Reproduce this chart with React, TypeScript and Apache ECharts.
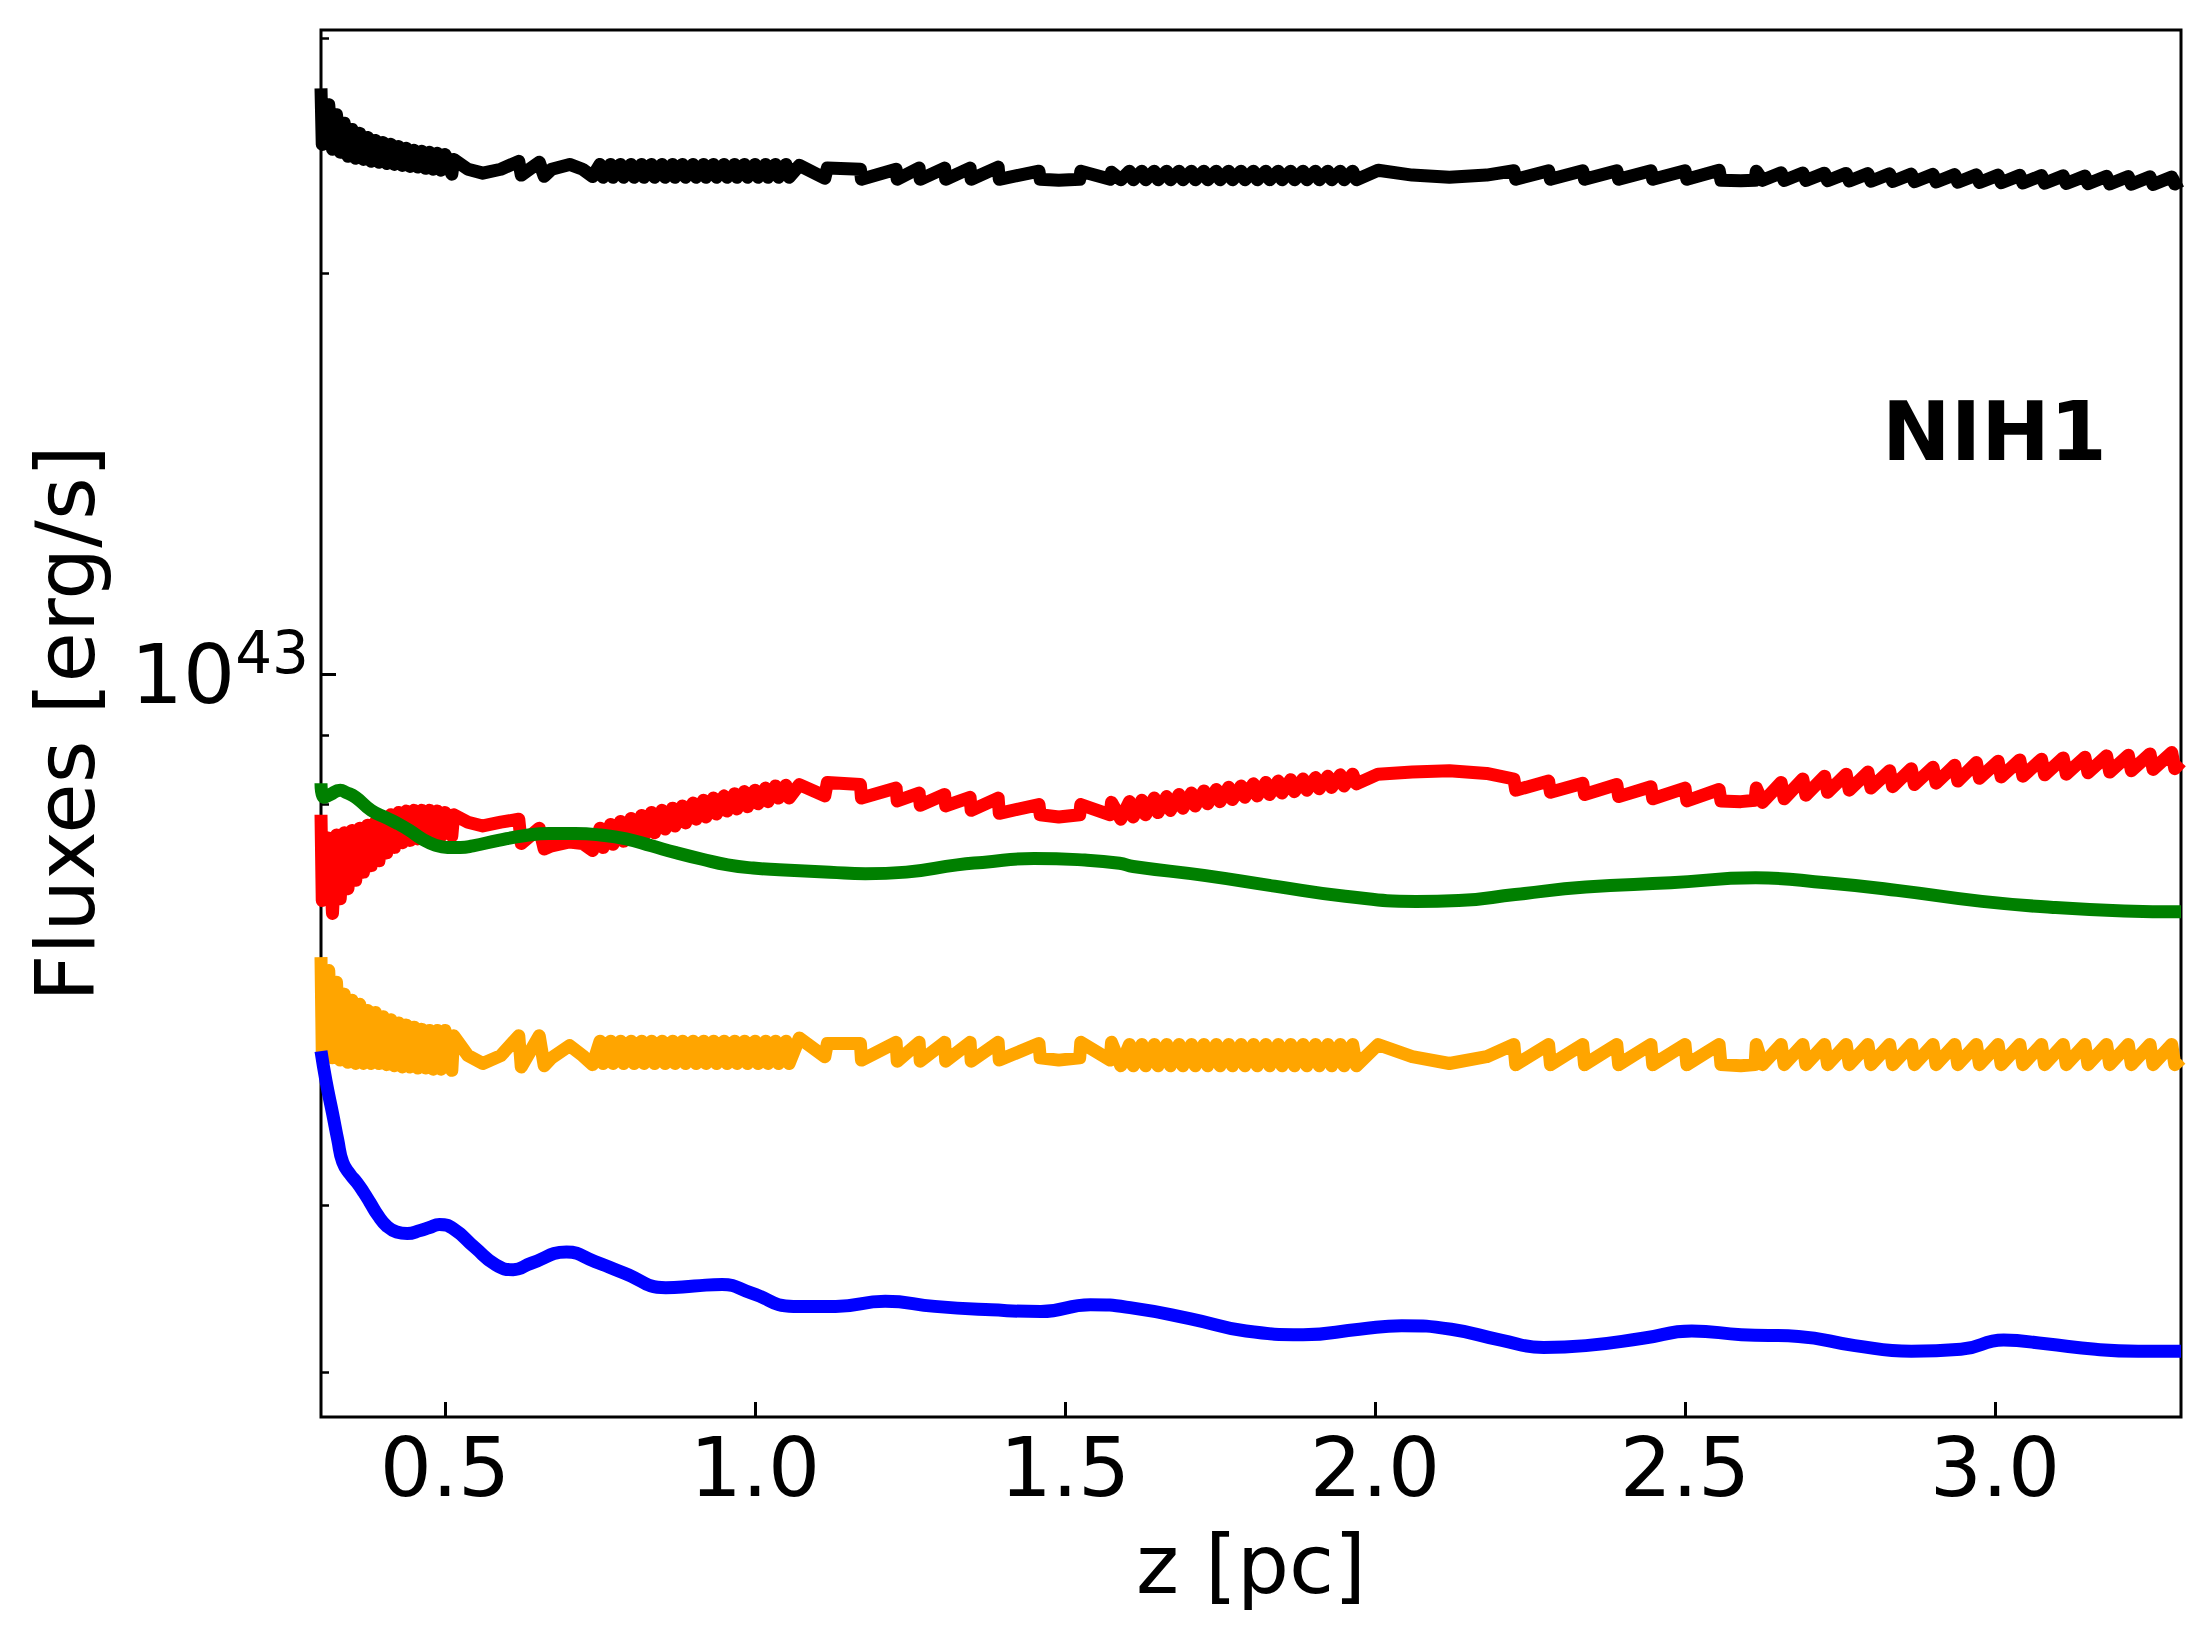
import React, { useEffect, useRef } from 'react';
import * as echarts from 'echarts';

// values in units of 1e42 erg/s
const UNIT = 1e42;
const Y_MIN = 2.776;
const Y_MAX = 30.42;
const X_MIN = 0.3;
const X_MAX = 3.3;
const X_TICKS = [0.5, 1.0, 1.5, 2.0, 2.5, 3.0];
const Y_MAJOR = [10];
const Y_MINOR = [3, 4, 5, 6, 7, 8, 9, 20, 30];

const blackFlux: [number, number][] = [
  [0.300, 27.50], [0.302, 24.97], [0.3125, 26.74], [0.3185, 24.76], [0.325, 26.28], [0.331, 24.63], [0.3375, 25.90], [0.3435, 24.46],
  [0.350, 25.62], [0.356, 24.38], [0.3625, 25.45], [0.3685, 24.33], [0.375, 25.27], [0.381, 24.25], [0.3875, 25.14], [0.3935, 24.21],
  [0.400, 25.05], [0.406, 24.16], [0.4125, 24.97], [0.4185, 24.12], [0.425, 24.88], [0.431, 24.08], [0.4375, 24.80], [0.4435, 24.04],
  [0.450, 24.72], [0.456, 24.01], [0.4625, 24.67], [0.4685, 23.96], [0.475, 24.63], [0.481, 23.92], [0.4875, 24.59], [0.4935, 23.88],
  [0.500, 24.54], [0.511, 23.72],
  [0.514, 24.33], [0.537, 23.92], [0.561, 23.76], [0.590, 23.92], [0.619, 24.25], [0.623, 23.68], [0.652, 24.21], [0.660, 23.63],
  [0.672, 23.92], [0.701, 24.12], [0.722, 23.92], [0.738, 23.62],
  [0.750, 24.12], [0.755, 23.59], [0.767, 24.12], [0.771, 23.59], [0.783, 24.12], [0.788, 23.59], [0.800, 24.12], [0.805, 23.59],
  [0.817, 24.12], [0.821, 23.59], [0.833, 24.12], [0.838, 23.59], [0.850, 24.12], [0.855, 23.59], [0.867, 24.12], [0.871, 23.59],
  [0.883, 24.12], [0.888, 23.59], [0.900, 24.12], [0.905, 23.59], [0.917, 24.12], [0.921, 23.59], [0.933, 24.12], [0.938, 23.59],
  [0.950, 24.12], [0.955, 23.59], [0.967, 24.12], [0.971, 23.59], [0.983, 24.12], [0.988, 23.59], [1.000, 24.12], [1.005, 23.59],
  [1.017, 24.12], [1.021, 23.59], [1.033, 24.12], [1.038, 23.59], [1.050, 24.12], [1.055, 23.59], [1.0715, 24.08],
  [1.1126, 23.55], [1.1167, 23.97], [1.170, 23.92], [1.1717, 23.51], [1.2276, 23.92], [1.2294, 23.51], [1.2647, 23.97], [1.2665, 23.51],
  [1.3058, 23.97], [1.3076, 23.51], [1.3469, 23.97], [1.3487, 23.51], [1.3922, 24.01], [1.394, 23.51], [1.458, 23.84], [1.460, 23.51],
  [1.490, 23.47], [1.5237, 23.51], [1.5255, 23.84], [1.573, 23.51], [1.575, 23.80],
  [1.590, 23.49], [1.604, 23.84], [1.610, 23.49], [1.624, 23.84], [1.630, 23.49], [1.644, 23.84], [1.650, 23.49], [1.664, 23.84],
  [1.670, 23.49], [1.684, 23.84], [1.690, 23.49], [1.704, 23.84], [1.710, 23.49], [1.724, 23.84], [1.730, 23.49], [1.744, 23.84],
  [1.750, 23.49], [1.764, 23.84], [1.770, 23.49], [1.784, 23.84], [1.790, 23.49], [1.804, 23.84], [1.810, 23.49], [1.824, 23.84],
  [1.830, 23.49], [1.844, 23.84], [1.850, 23.49], [1.864, 23.84], [1.870, 23.49], [1.884, 23.84], [1.890, 23.49], [1.904, 23.84],
  [1.910, 23.49], [1.924, 23.84], [1.930, 23.49], [1.944, 23.84], [1.950, 23.49], [1.964, 23.84], [1.970, 23.49],
  [2.005, 23.88], [2.060, 23.68], [2.120, 23.59], [2.180, 23.68], [2.224, 23.86], [2.227, 23.51],
  [2.280, 23.86], [2.283, 23.51], [2.335, 23.86], [2.338, 23.51], [2.390, 23.86], [2.393, 23.51], [2.445, 23.86], [2.448, 23.51],
  [2.500, 23.86], [2.503, 23.51], [2.555, 23.88], [2.558, 23.47], [2.590, 23.45], [2.613, 23.47], [2.615, 23.84],
  [2.625, 23.47], [2.655, 23.78], [2.660, 23.46], [2.690, 23.77], [2.695, 23.46], [2.725, 23.76], [2.730, 23.45], [2.760, 23.75],
  [2.765, 23.44], [2.795, 23.74], [2.800, 23.43], [2.830, 23.73], [2.835, 23.42], [2.865, 23.72], [2.870, 23.41], [2.900, 23.71],
  [2.905, 23.40], [2.935, 23.70], [2.940, 23.39], [2.970, 23.69], [2.975, 23.38], [3.005, 23.68], [3.010, 23.37], [3.040, 23.67],
  [3.045, 23.36], [3.075, 23.66], [3.080, 23.35], [3.110, 23.65], [3.115, 23.34], [3.145, 23.64], [3.150, 23.33], [3.180, 23.63],
  [3.185, 23.32], [3.215, 23.62], [3.220, 23.31], [3.250, 23.61], [3.255, 23.30], [3.285, 23.60], [3.290, 23.32], [3.300, 23.45],
];

const redFlux: [number, number][] = [
  [0.300, 7.85], [0.302, 6.77], [0.3125, 7.54], [0.3185, 6.62], [0.325, 7.58], [0.331, 6.79], [0.3375, 7.61], [0.3435, 6.91],
  [0.350, 7.64], [0.356, 7.01], [0.3625, 7.67], [0.3685, 7.11], [0.375, 7.71], [0.381, 7.19], [0.3875, 7.75], [0.3935, 7.25],
  [0.400, 7.81], [0.406, 7.35], [0.4125, 7.85], [0.4185, 7.42], [0.425, 7.88], [0.431, 7.48], [0.4375, 7.90], [0.4435, 7.51],
  [0.450, 7.91], [0.456, 7.53], [0.4625, 7.91], [0.4685, 7.54], [0.475, 7.91], [0.481, 7.55], [0.4875, 7.90], [0.4935, 7.57],
  [0.500, 7.88], [0.511, 7.57],
  [0.514, 7.85], [0.537, 7.75], [0.561, 7.70], [0.590, 7.75], [0.619, 7.79], [0.623, 7.47], [0.652, 7.67], [0.660, 7.40],
  [0.672, 7.44], [0.701, 7.49], [0.722, 7.47], [0.738, 7.38],
  [0.750, 7.67], [0.755, 7.42], [0.767, 7.72], [0.771, 7.46], [0.783, 7.76], [0.788, 7.50], [0.800, 7.80], [0.805, 7.54],
  [0.817, 7.84], [0.821, 7.57], [0.833, 7.88], [0.838, 7.61], [0.850, 7.91], [0.855, 7.66], [0.867, 7.94], [0.871, 7.70],
  [0.883, 7.97], [0.888, 7.74], [0.900, 8.01], [0.905, 7.79], [0.917, 8.05], [0.921, 7.82], [0.933, 8.08], [0.938, 7.86],
  [0.950, 8.11], [0.955, 7.90], [0.967, 8.14], [0.971, 7.93], [0.983, 8.17], [0.988, 7.96], [1.000, 8.19], [1.005, 8.00],
  [1.017, 8.22], [1.021, 8.03], [1.033, 8.25], [1.038, 8.08], [1.050, 8.26], [1.055, 8.08], [1.0715, 8.27],
  [1.1126, 8.11], [1.1167, 8.30], [1.170, 8.27], [1.1717, 8.08], [1.2276, 8.22], [1.2294, 8.04], [1.2647, 8.15], [1.2665, 7.98],
  [1.3058, 8.13], [1.3076, 7.97], [1.3469, 8.09], [1.3487, 7.91], [1.3922, 8.08], [1.394, 7.87], [1.458, 7.99], [1.460, 7.85],
  [1.490, 7.82], [1.5237, 7.85], [1.5255, 7.99], [1.573, 7.85], [1.575, 8.02],
  [1.590, 7.79], [1.604, 8.03], [1.610, 7.82], [1.624, 8.05], [1.630, 7.85], [1.644, 8.08], [1.650, 7.88], [1.664, 8.10],
  [1.670, 7.91], [1.684, 8.13], [1.690, 7.94], [1.704, 8.15], [1.710, 7.97], [1.724, 8.18], [1.730, 8.00], [1.744, 8.20],
  [1.750, 8.03], [1.764, 8.23], [1.770, 8.06], [1.784, 8.25], [1.790, 8.09], [1.804, 8.28], [1.810, 8.11], [1.824, 8.30],
  [1.830, 8.13], [1.844, 8.32], [1.850, 8.15], [1.864, 8.34], [1.870, 8.17], [1.884, 8.35], [1.890, 8.19], [1.904, 8.37],
  [1.910, 8.21], [1.924, 8.39], [1.930, 8.23], [1.944, 8.41], [1.950, 8.25], [1.964, 8.42], [1.970, 8.28],
  [2.005, 8.42], [2.060, 8.45], [2.120, 8.47], [2.180, 8.43], [2.224, 8.35], [2.227, 8.19],
  [2.280, 8.32], [2.283, 8.16], [2.335, 8.29], [2.338, 8.13], [2.390, 8.27], [2.393, 8.10], [2.445, 8.24], [2.448, 8.07],
  [2.500, 8.22], [2.503, 8.04], [2.555, 8.20], [2.558, 8.04], [2.590, 8.03], [2.613, 8.05], [2.615, 8.22],
  [2.625, 8.02], [2.655, 8.30], [2.660, 8.07], [2.690, 8.35], [2.695, 8.12], [2.725, 8.39], [2.730, 8.16], [2.760, 8.42],
  [2.765, 8.19], [2.795, 8.45], [2.800, 8.22], [2.830, 8.47], [2.835, 8.24], [2.865, 8.50], [2.870, 8.27], [2.900, 8.52],
  [2.905, 8.29], [2.935, 8.55], [2.940, 8.32], [2.970, 8.59], [2.975, 8.36], [3.005, 8.61], [3.010, 8.38], [3.040, 8.63],
  [3.045, 8.39], [3.075, 8.64], [3.080, 8.41], [3.110, 8.66], [3.115, 8.42], [3.145, 8.67], [3.150, 8.44], [3.180, 8.69],
  [3.185, 8.45], [3.215, 8.70], [3.220, 8.47], [3.250, 8.72], [3.255, 8.49], [3.285, 8.74], [3.290, 8.50], [3.300, 8.60],
];

const greenFlux: [number, number][] = [
  [0.300, 8.29], [0.305, 8.09], [0.315, 8.13], [0.331, 8.19], [0.340, 8.16], [0.356, 8.09], [0.381, 7.91], [0.405, 7.81],
  [0.422, 7.74], [0.443, 7.64], [0.463, 7.53], [0.484, 7.45], [0.504, 7.42], [0.525, 7.42], [0.545, 7.44], [0.586, 7.51],
  [0.627, 7.57], [0.668, 7.60], [0.710, 7.60], [0.751, 7.58], [0.792, 7.53], [0.833, 7.44], [0.874, 7.35], [0.915, 7.27],
  [0.956, 7.20], [0.997, 7.16], [1.039, 7.14], [1.121, 7.11], [1.178, 7.09], [1.244, 7.11], [1.326, 7.20], [1.367, 7.23],
  [1.450, 7.28], [1.532, 7.26], [1.588, 7.22], [1.610, 7.18], [1.724, 7.07], [1.838, 6.94], [1.952, 6.82], [2.066, 6.76],
  [2.135, 6.77], [2.226, 6.84], [2.340, 6.93], [2.477, 6.98], [2.614, 7.04], [2.728, 6.98], [2.842, 6.89], [2.979, 6.76],
  [3.094, 6.69], [3.208, 6.65], [3.300, 6.64],
];

const orangeFlux: [number, number][] = [
  [0.300, 6.14], [0.302, 5.21], [0.3125, 6.00], [0.3185, 5.16], [0.325, 5.88], [0.331, 5.14], [0.3375, 5.76], [0.3435, 5.12],
  [0.350, 5.70], [0.356, 5.11], [0.3625, 5.66], [0.3685, 5.11], [0.375, 5.60], [0.381, 5.11], [0.3875, 5.58], [0.3935, 5.11],
  [0.400, 5.54], [0.406, 5.10], [0.4125, 5.51], [0.4185, 5.09], [0.425, 5.48], [0.431, 5.08], [0.4375, 5.46], [0.4435, 5.08],
  [0.450, 5.44], [0.456, 5.07], [0.4625, 5.42], [0.4685, 5.07], [0.475, 5.41], [0.481, 5.06], [0.4875, 5.41], [0.4935, 5.06],
  [0.500, 5.41], [0.511, 5.05],
  [0.514, 5.36], [0.537, 5.18], [0.561, 5.11], [0.590, 5.18], [0.619, 5.36], [0.623, 5.08], [0.652, 5.36], [0.660, 5.09],
  [0.672, 5.16], [0.701, 5.27], [0.722, 5.18], [0.738, 5.10],
  [0.750, 5.31], [0.755, 5.11], [0.767, 5.31], [0.771, 5.11], [0.783, 5.31], [0.788, 5.11], [0.800, 5.31], [0.805, 5.11],
  [0.817, 5.31], [0.821, 5.11], [0.833, 5.31], [0.838, 5.11], [0.850, 5.31], [0.855, 5.11], [0.867, 5.31], [0.871, 5.11],
  [0.883, 5.31], [0.888, 5.11], [0.900, 5.31], [0.905, 5.11], [0.917, 5.31], [0.921, 5.11], [0.933, 5.31], [0.938, 5.11],
  [0.950, 5.31], [0.955, 5.11], [0.967, 5.31], [0.971, 5.11], [0.983, 5.31], [0.988, 5.11], [1.000, 5.31], [1.005, 5.11],
  [1.017, 5.31], [1.021, 5.11], [1.033, 5.31], [1.038, 5.11], [1.050, 5.31], [1.055, 5.11], [1.0715, 5.34],
  [1.1126, 5.17], [1.1167, 5.29], [1.170, 5.29], [1.1717, 5.14], [1.2276, 5.30], [1.2294, 5.13], [1.2647, 5.30], [1.2665, 5.13],
  [1.3058, 5.30], [1.3076, 5.13], [1.3469, 5.30], [1.3487, 5.13], [1.3922, 5.30], [1.394, 5.14], [1.458, 5.29], [1.460, 5.16],
  [1.490, 5.14], [1.5237, 5.16], [1.5255, 5.30], [1.573, 5.14], [1.575, 5.30],
  [1.590, 5.09], [1.604, 5.28], [1.610, 5.09], [1.624, 5.28], [1.630, 5.09], [1.644, 5.28], [1.650, 5.09], [1.664, 5.28],
  [1.670, 5.09], [1.684, 5.28], [1.690, 5.09], [1.704, 5.28], [1.710, 5.09], [1.724, 5.28], [1.730, 5.09], [1.744, 5.28],
  [1.750, 5.09], [1.764, 5.28], [1.770, 5.09], [1.784, 5.28], [1.790, 5.09], [1.804, 5.28], [1.810, 5.09], [1.824, 5.28],
  [1.830, 5.09], [1.844, 5.28], [1.850, 5.09], [1.864, 5.28], [1.870, 5.09], [1.884, 5.28], [1.890, 5.09], [1.904, 5.28],
  [1.910, 5.09], [1.924, 5.28], [1.930, 5.09], [1.944, 5.28], [1.950, 5.09], [1.964, 5.28], [1.970, 5.09],
  [2.005, 5.28], [2.060, 5.17], [2.120, 5.11], [2.180, 5.17], [2.224, 5.28], [2.227, 5.10],
  [2.280, 5.28], [2.283, 5.10], [2.335, 5.28], [2.338, 5.10], [2.390, 5.28], [2.393, 5.10], [2.445, 5.28], [2.448, 5.10],
  [2.500, 5.28], [2.503, 5.10], [2.555, 5.28], [2.558, 5.10], [2.590, 5.09], [2.613, 5.10], [2.615, 5.28],
  [2.625, 5.10], [2.655, 5.28], [2.660, 5.10], [2.690, 5.28], [2.695, 5.10], [2.725, 5.28], [2.730, 5.10], [2.760, 5.28],
  [2.765, 5.10], [2.795, 5.28], [2.800, 5.10], [2.830, 5.28], [2.835, 5.10], [2.865, 5.28], [2.870, 5.10], [2.900, 5.28],
  [2.905, 5.10], [2.935, 5.28], [2.940, 5.10], [2.970, 5.28], [2.975, 5.10], [3.005, 5.28], [3.010, 5.10], [3.040, 5.28],
  [3.045, 5.10], [3.075, 5.28], [3.080, 5.10], [3.110, 5.28], [3.115, 5.10], [3.145, 5.28], [3.150, 5.10], [3.180, 5.28],
  [3.185, 5.10], [3.215, 5.28], [3.220, 5.10], [3.250, 5.28], [3.255, 5.10], [3.285, 5.28], [3.290, 5.10], [3.300, 5.15],
];

const blueFlux: [number, number][] = [
  [0.300, 5.22], [0.308, 4.96], [0.319, 4.68], [0.327, 4.48], [0.335, 4.31], [0.347, 4.22], [0.358, 4.16], [0.369, 4.09],
  [0.379, 4.02], [0.392, 3.93], [0.406, 3.86], [0.422, 3.82], [0.439, 3.81], [0.460, 3.83], [0.475, 3.85], [0.491, 3.87],
  [0.514, 3.84], [0.548, 3.72], [0.582, 3.61], [0.610, 3.58], [0.639, 3.62], [0.696, 3.69], [0.742, 3.63], [0.788, 3.56],
  [0.856, 3.47], [0.902, 3.48], [0.947, 3.49], [0.993, 3.44], [1.062, 3.36], [1.130, 3.36], [1.210, 3.39], [1.290, 3.36],
  [1.381, 3.34], [1.461, 3.33], [1.541, 3.37], [1.610, 3.35], [1.701, 3.29], [1.792, 3.22], [1.884, 3.20], [1.975, 3.23],
  [2.043, 3.25], [2.123, 3.23], [2.203, 3.17], [2.272, 3.13], [2.340, 3.14], [2.432, 3.18], [2.511, 3.22], [2.591, 3.20],
  [2.683, 3.19], [2.774, 3.14], [2.865, 3.11], [2.945, 3.12], [3.014, 3.17], [3.082, 3.15], [3.162, 3.12], [3.231, 3.11],
  [3.300, 3.11],
];

const SERIES = [
  { name: 'black', color: '#000000', data: blackFlux, smooth: false },
  { name: 'red', color: '#ff0000', data: redFlux, smooth: false },
  { name: 'green', color: '#008000', data: greenFlux, smooth: true },
  { name: 'orange', color: '#ffa500', data: orangeFlux, smooth: false },
  { name: 'blue', color: '#0000ff', data: blueFlux, smooth: true },
];

const FONT = 'DejaVu Sans';

export default function App() {
  const ref = useRef<HTMLDivElement>(null);

  useEffect(() => {
    document.body.style.margin = '0';
    const chart = echarts.init(ref.current!, undefined, { renderer: 'svg' });
    const scale = (arr: [number, number][]) => arr.map(([z, v]) => [z, v * UNIT]);
    chart.setOption({
      animation: false,
      backgroundColor: '#ffffff',
      grid: {
        left: 321, top: 30, width: 1860, height: 1387,
        show: true, borderColor: '#000', borderWidth: 3, backgroundColor: 'transparent',
      },
      xAxis: {
        type: 'value', min: X_MIN, max: X_MAX,
        axisLine: { show: false },
        splitLine: { show: false },
        axisTick: { inside: true, length: 15, lineStyle: { color: '#000', width: 3 }, customValues: X_TICKS },
        axisLabel: {
          customValues: X_TICKS,
          formatter: (v: number) => v.toFixed(1),
          fontSize: 82, fontFamily: FONT, color: '#000', margin: 9,
        },
        name: 'z [pc]', nameLocation: 'middle', nameGap: 106,
        nameTextStyle: { fontSize: 82, fontFamily: FONT, color: '#000' },
      },
      yAxis: [
        {
          type: 'log', position: 'left', min: Y_MIN * UNIT, max: Y_MAX * UNIT,
          axisLine: { show: false },
          splitLine: { show: false },
          axisTick: { inside: true, length: 15, lineStyle: { color: '#000', width: 3 }, customValues: Y_MAJOR.map((v) => v * UNIT) },
          axisLabel: {
            customValues: Y_MAJOR.map((v) => v * UNIT),
            formatter: () => '{b|10}{s|43}',
            margin: 12,
            rich: {
              b: { fontSize: 82, fontFamily: FONT, color: '#000' },
              s: { fontSize: 58, fontFamily: FONT, color: '#000', padding: [0, 0, 44, 0] },
            },
          },
          name: 'Fluxes [erg/s]', nameLocation: 'middle', nameGap: 215, nameRotate: 90,
          nameTextStyle: { fontSize: 82, fontFamily: FONT, color: '#000' },
        },
        {
          type: 'log', position: 'left', offset: 0, min: Y_MIN * UNIT, max: Y_MAX * UNIT,
          axisLine: { show: false },
          splitLine: { show: false },
          axisTick: { inside: true, length: 8, lineStyle: { color: '#000', width: 2.5 }, customValues: Y_MINOR.map((v) => v * UNIT) },
          axisLabel: { show: false },
        },
      ],
      graphic: [
        {
          type: 'text', x: 1882, y: 431, z: 100,
          style: { text: 'NIH1', fontSize: 82, fontWeight: 'bold', fontFamily: FONT, fill: '#000', align: 'left', verticalAlign: 'middle' },
        },
      ],
      series: SERIES.map((s) => ({
        type: 'line',
        name: s.name,
        data: scale(s.data),
        showSymbol: false,
        symbol: 'none',
        smooth: s.smooth ? 0.5 : false,
        clip: true,
        lineStyle: { color: s.color, width: 13, join: 'round', cap: 'butt' },
        z: 2,
      })),
    });
    return () => chart.dispose();
  }, []);

  return <div ref={ref} style={{ width: 2210, height: 1639 }} />;
}
